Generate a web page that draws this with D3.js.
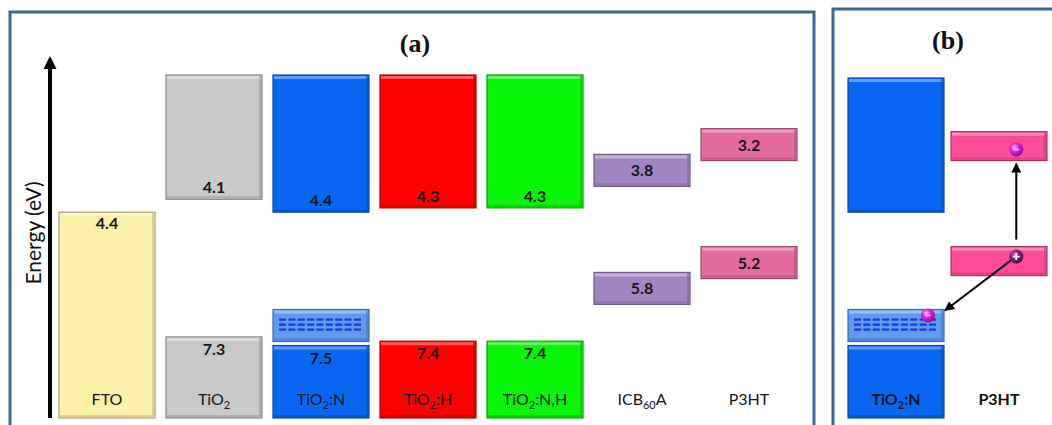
<!DOCTYPE html>
<html>
<head>
<meta charset="utf-8">
<script src="https://cdn.jsdelivr.net/npm/d3@7"></script>
<style>
  html, body { margin: 0; padding: 0; background: #fff; }
  svg { display: block; font-family: Lato, "Open Sans", sans-serif; }
</style>
</head>
<body>
<svg id="chart" width="1052" height="425"></svg>
<script>
// ---- Energy levels (eV below vacuum) ----
const materials      = ["FTO", "TiO2", "TiO2:N", "TiO2:H", "TiO2:N,H", "ICBA", "P3HT"];
const materialLabels = ["FTO", "TiO_{2}", "TiO_{2}:N", "TiO_{2}:H", "TiO_{2}:N,H", "ICB_{60}A", "P3HT"];
const materialKinds  = ["electrode", "oxide", "oxide", "oxide", "oxide", "organic", "organic"];
// conduction band / LUMO
const upperLevels    = [null, 4.1, 4.4, 4.3, 4.3, 3.8, 3.2];
// work function / valence band / HOMO
const lowerLevels    = [4.4, 7.3, 7.5, 7.4, 7.4, 5.8, 5.2];
// nitrogen-induced states above the valence band
const trapStates     = [false, false, true, false, false, false, false];

// Panel (b): charge transfer at the TiO2:N / P3HT junction
const junctionMaterials = ["TiO2:N", "P3HT"];
const junctionLabels    = ["TiO_{2}:N", "P3HT"];
const junctionKinds     = ["oxide", "organic"];
const junctionUpper     = [4.4, 3.2];
const junctionLower     = [7.5, 5.2];
const junctionTraps     = [true, false];

// ---- Palette ----
const fillA = ["#fdf0a9", "#c9c9c9", "#0867f2", "#fe0000", "#08f408", "#a385c3", "#e46b9f"];
const fillB = ["#0867f2", "#fe4c98"];
const trapFill = "#5f9cf0";
const frameColor = "#3f6492";
const textColor = "#161616";

// ---- Layout ----
const svg = d3.select("#chart");
const bandTop = 75, bandBottom = 418, thinBox = 32, trapGap = 4;

const y = d3.scaleLinear().domain([3, 8]).range([152, 367]);
const xA = d3.scaleBand().domain(materials).range([48, 808]).paddingInner(0.1028).paddingOuter(0.1028);
const xB = d3.scaleBand().domain(junctionMaterials).range([841, 1054]).paddingInner(0.068).paddingOuter(0.068);

const defs = svg.append("defs");
defs.append("marker").attr("id", "head")
  .attr("viewBox", "0 0 10 10").attr("refX", 9).attr("refY", 5)
  .attr("markerWidth", 5).attr("markerHeight", 5).attr("orient", "auto")
  .append("path").attr("d", "M0,0L10,5L0,10z").attr("fill", "#000");
const eg = defs.append("radialGradient").attr("id", "electron").attr("cx", "38%").attr("cy", "35%").attr("r", "65%");
eg.append("stop").attr("offset", "0%").attr("stop-color", "#ffc8ff");
eg.append("stop").attr("offset", "45%").attr("stop-color", "#e01ee0");
eg.append("stop").attr("offset", "100%").attr("stop-color", "#9a0a9a");
const hg = defs.append("radialGradient").attr("id", "hole").attr("cx", "38%").attr("cy", "35%").attr("r", "65%");
hg.append("stop").attr("offset", "0%").attr("stop-color", "#c070c0");
hg.append("stop").attr("offset", "50%").attr("stop-color", "#7a207a");
hg.append("stop").attr("offset", "100%").attr("stop-color", "#4a0e4a");

// Bevelled box
function box(g, x0, y0, w, h, c) {
  const base = d3.color(c);
  const light = d3.interpolateRgb(c, "#ffffff")(0.35);
  const dark = base.darker(0.6);
  g.append("rect").attr("x", x0).attr("y", y0).attr("width", w).attr("height", h)
    .attr("fill", c).attr("stroke", base.darker(1.1)).attr("stroke-width", 1.2);
  g.append("rect").attr("x", x0 + 1).attr("y", y0 + 1).attr("width", w - 2).attr("height", 3)
    .attr("fill", light);
  g.append("rect").attr("x", x0 + w - 3).attr("y", y0 + 1).attr("width", 2).attr("height", h - 2)
    .attr("fill", dark).attr("opacity", 0.7);
  g.append("rect").attr("x", x0 + 1).attr("y", y0 + h - 3).attr("width", w - 2).attr("height", 2)
    .attr("fill", dark).attr("opacity", 0.7);
}

// Text with _{..} subscripts
function richText(sel, str, size) {
  const parts = str.split(/(_\{[^}]*\})/).filter(s => s.length);
  let shifted = false;
  parts.forEach(p => {
    if (p.startsWith("_{")) {
      sel.append("tspan").attr("font-size", size * 0.68).attr("dy", size * 0.25).text(p.slice(2, -1));
      shifted = true;
    } else {
      const t = sel.append("tspan").attr("font-size", size).text(p);
      if (shifted) { t.attr("dy", -size * 0.25); shifted = false; }
    }
  });
}

function valueLabel(g, cx, baseline, v) {
  g.append("text").attr("x", cx).attr("y", baseline).attr("text-anchor", "middle")
    .attr("font-size", 16).attr("font-weight", 700).attr("fill", textColor)
    .text(v.toFixed(1));
}

function trapBox(g, x0, w, vbTop) {
  const y0 = vbTop - trapGap - thinBox;
  box(g, x0, y0, w, thinBox, trapFill);
  const cols = d3.range(9), rows = d3.range(3);
  const dx = d3.scalePoint().domain(cols).range([x0 + 6, x0 + w - 15]);
  rows.forEach(r => {
    g.selectAll(null).data(cols).join("rect")
      .attr("x", d => dx(d)).attr("y", y0 + 9 + r * 5)
      .attr("width", 7).attr("height", 2.2).attr("fill", "#1436e6");
  });
  return y0;
}

// ---- Frames ----
svg.append("rect").attr("x", 10).attr("y", 12).attr("width", 804).attr("height", 440)
  .attr("fill", "none").attr("stroke", frameColor).attr("stroke-width", 3);
svg.append("rect").attr("x", 833).attr("y", 9).attr("width", 260).attr("height", 440)
  .attr("fill", "none").attr("stroke", frameColor).attr("stroke-width", 3);

svg.append("text").attr("x", 415).attr("y", 52).attr("text-anchor", "middle")
  .attr("font-family", "'Liberation Serif', 'DejaVu Serif', serif").attr("font-weight", 700)
  .attr("font-size", 26).attr("fill", "#111").text("(a)");
svg.append("text").attr("x", 948).attr("y", 49).attr("text-anchor", "middle")
  .attr("font-family", "'Liberation Serif', 'DejaVu Serif', serif").attr("font-weight", 700)
  .attr("font-size", 26).attr("fill", "#111").text("(b)");

// ---- Energy axis ----
svg.append("line").attr("x1", 50).attr("x2", 50).attr("y1", 418).attr("y2", 64)
  .attr("stroke", "#000").attr("stroke-width", 4);
svg.append("path").attr("d", d3.line()([[50, 56], [43.5, 69], [56.5, 69]]) + "Z").attr("fill", "#000");
svg.append("text").attr("transform", "translate(41,233) rotate(-90)")
  .attr("text-anchor", "middle").attr("font-size", 21).attr("fill", "#111").text("Energy (eV)");

// ---- Panel (a) ----
const gA = svg.append("g");
materials.forEach((m, i) => {
  const x0 = xA(m), w = xA.bandwidth(), cx = x0 + w / 2;
  const kind = materialKinds[i], c = fillA[i];
  if (kind === "electrode") {
    const top = y(lowerLevels[i]);
    box(gA, x0, top, w, bandBottom - top, c);
    valueLabel(gA, cx, top + 17, lowerLevels[i]);
  } else if (kind === "oxide") {
    const cb = y(upperLevels[i]);
    box(gA, x0, bandTop, w, cb - bandTop, c);
    valueLabel(gA, cx, cb - 6, upperLevels[i]);
    const vb = y(lowerLevels[i]);
    box(gA, x0, vb, w, bandBottom - vb, c);
    valueLabel(gA, cx, vb + 18, lowerLevels[i]);
    if (trapStates[i]) trapBox(gA, x0, w, vb);
  } else {
    const lumo = y(upperLevels[i]);
    box(gA, x0, lumo - thinBox, w, thinBox, c);
    valueLabel(gA, cx, lumo - thinBox / 2 + 6, upperLevels[i]);
    const homo = y(lowerLevels[i]);
    box(gA, x0, homo, w, thinBox, c);
    valueLabel(gA, cx, homo + thinBox / 2 + 6, lowerLevels[i]);
  }
  richText(gA.append("text").attr("x", cx).attr("y", 405).attr("text-anchor", "middle")
    .attr("fill", textColor), materialLabels[i], 16);
});

// ---- Panel (b) ----
const gB = svg.append("g");
let trapTop = null, trapRight = null, homoTop = null, lumoBottom = null, holeX = null;
junctionMaterials.forEach((m, i) => {
  const x0 = xB(m), w = xB.bandwidth(), cx = x0 + w / 2;
  if (junctionKinds[i] === "oxide") {
    const cb = y(junctionUpper[i]);
    box(gB, x0, bandTop + 3, w, cb - bandTop - 3, fillB[i]);
    const vb = y(junctionLower[i]);
    box(gB, x0, vb, w, bandBottom - vb, fillB[i]);
    if (junctionTraps[i]) { trapTop = trapBox(gB, x0, w, vb); trapRight = x0 + w; }
  } else {
    lumoBottom = y(junctionUpper[i]);
    box(gB, x0, lumoBottom - thinBox + 3, w, thinBox - 3, fillB[i]);
    homoTop = y(junctionLower[i]);
    box(gB, x0, homoTop, w, thinBox - 3, fillB[i]);
    holeX = x0 + w * 0.68;
  }
  richText(gB.append("text").attr("x", cx).attr("y", 405).attr("text-anchor", "middle")
    .attr("font-weight", 700).attr("fill", "#111"), junctionLabels[i], 16);
});

// excitation: HOMO -> LUMO
gB.append("line").attr("x1", holeX).attr("x2", holeX)
  .attr("y1", homoTop - 7).attr("y2", lumoBottom + 3)
  .attr("stroke", "#000").attr("stroke-width", 2).attr("marker-end", "url(#head)");
// hole transfer into the N states
const holeY = homoTop + 10;
gB.append("line").attr("x1", holeX - 3).attr("y1", holeY + 2)
  .attr("x2", trapRight + 1).attr("y2", trapTop + 1)
  .attr("stroke", "#000").attr("stroke-width", 2).attr("marker-end", "url(#head)");

function particle(cx, cy, fill, sign) {
  gB.append("circle").attr("cx", cx).attr("cy", cy).attr("r", 7).attr("fill", fill);
  if (sign === "+") {
    gB.append("path").attr("d", `M${cx - 3.5},${cy}H${cx + 3.5}M${cx},${cy - 3.5}V${cy + 3.5}`)
      .attr("stroke", "#fff").attr("stroke-width", 1.8);
  } else {
    gB.append("path").attr("d", `M${cx - 2.5},${cy}H${cx + 2.5}`)
      .attr("stroke", "#fff").attr("stroke-width", 1.5).attr("opacity", 0.8);
  }
}
particle(holeX, lumoBottom - 11, "url(#electron)", "-");
particle(holeX, holeY, "url(#hole)", "+");
particle(trapRight - 16, trapTop + 6, "url(#electron)", "-");
</script>
</body>
</html>
